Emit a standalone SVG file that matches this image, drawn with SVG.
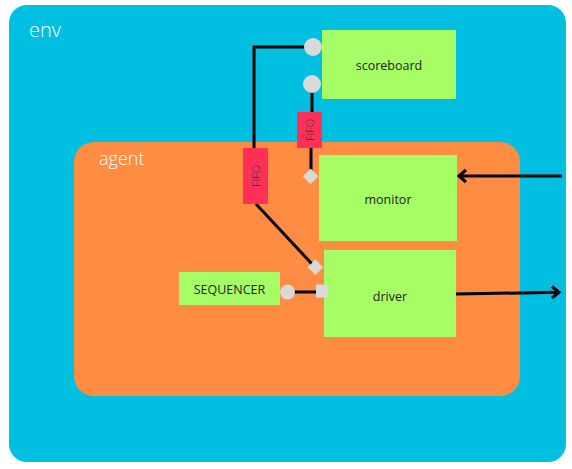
<svg xmlns="http://www.w3.org/2000/svg" width="572" height="469" viewBox="0 0 572 469">
<style>
.box{fill:#A6FD66;}
.lbl{font-family:"Open Sans","Liberation Sans",sans-serif;font-size:12.5px;fill:#222;text-anchor:middle;dominant-baseline:central;}
.fifo{fill:#FE3057;}
.ftxt{font-family:"Open Sans","Liberation Sans",sans-serif;font-size:11px;font-weight:300;fill:#333;text-anchor:middle;dominant-baseline:central;}
.port{fill:#D9D9D9;}
.wire{stroke:#000;stroke-width:3;fill:none;}
.title{font-family:"Open Sans","Liberation Sans",sans-serif;fill:#fff;font-weight:300;}
</style>
<rect width="572" height="469" fill="#fff"/>
<g id="env">
<rect x="9" y="5" width="557" height="457" rx="18" fill="#00BFE0"/>
<text class="title" x="29" y="37" font-size="20">env</text>
</g>
<g id="agent">
<rect x="74" y="142" width="446" height="254" rx="20" fill="#FE8C42"/>
<text class="title" x="99" y="165" font-size="18">agent</text>
</g>
<g id="connectors">
<polyline class="wire" points="312,47 254,47 254,148"/>
<line class="wire" x1="312" y1="84" x2="312" y2="112"/>
<line class="wire" x1="311" y1="147" x2="311" y2="172"/>
<line class="wire" x1="256" y1="204" x2="312" y2="264"/>
<line class="wire" x1="287" y1="292" x2="318" y2="292"/>
<line class="wire" x1="562" y1="176" x2="459" y2="176"/>
<polyline class="wire" points="466,170 459,176 466,182"/>
<line class="wire" x1="456" y1="294" x2="559" y2="292.3"/>
<polyline class="wire" points="552,286.5 559,292.3 552,298"/>
</g>
<g id="scoreboard">
<rect class="box" x="322" y="30" width="134" height="69"/>
<text class="lbl" x="389" y="65">scoreboard</text>
<circle class="port" cx="313" cy="47" r="9"/>
<circle class="port" cx="312" cy="84" r="9"/>
</g>
<g id="monitor">
<rect class="box" x="319" y="155" width="138" height="86"/>
<text class="lbl" x="388" y="199">monitor</text>
<rect class="port" x="305" y="171" width="11" height="11" transform="rotate(45 310.7 176.5)"/>
</g>
<g id="driver">
<rect class="box" x="324" y="250" width="132" height="87"/>
<text class="lbl" x="390" y="296">driver</text>
<rect class="port" x="310" y="262" width="11" height="11" transform="rotate(45 315.7 267.3)"/>
<rect class="port" x="316" y="284.5" width="12" height="13"/>
</g>
<g id="sequencer">
<rect class="box" x="179" y="272" width="101" height="33"/>
<text class="lbl" x="229.5" y="289">SEQUENCER</text>
<circle class="port" cx="287.5" cy="292" r="7.5"/>
</g>
<g id="fifo1">
<rect class="fifo" x="243" y="148" width="25" height="56"/>
<text class="ftxt" transform="translate(255.5 176) rotate(-90)">FIFO</text>
</g>
<g id="fifo2">
<rect class="fifo" x="297" y="112" width="25" height="36"/>
<text class="ftxt" transform="translate(309.5 130) rotate(-90)">FIFO</text>
</g>
</svg>
